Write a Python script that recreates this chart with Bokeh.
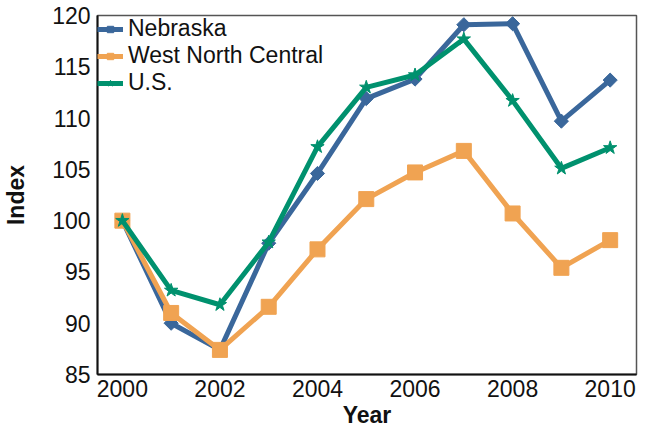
import math
from bokeh.plotting import figure
from bokeh.models import Range1d, FixedTicker
from bokeh.embed import file_html
from bokeh.resources import INLINE

years = [2000, 2001, 2002, 2003, 2004, 2005, 2006, 2007, 2008, 2009, 2010]
nebraska = [100.0, 90.0, 87.4, 97.8, 104.6, 111.9, 113.8, 119.1, 119.2, 109.7, 113.7]
west_north_central = [100.0, 91.0, 87.4, 91.6, 97.2, 102.1, 104.7, 106.8, 100.7, 95.4, 98.1]
us = [100.0, 93.2, 91.8, 97.9, 107.2, 113.0, 114.2, 117.7, 111.7, 105.1, 107.1]
x_ticks = [2000, 2002, 2004, 2006, 2008, 2010]
y_ticks = [85, 90, 95, 100, 105, 110, 115, 120]

FONT = "Liberation Sans"
BLUE = "#3A679B"
ORANGE = "#F0A352"
GREEN = "#00916E"

p = figure(width=642, height=430, output_backend="svg", toolbar_location=None,
           x_range=Range1d(1999.49, 2010.54), y_range=Range1d(85, 120),
           min_border_left=92, min_border_right=6, min_border_top=15, min_border_bottom=10)

p.line(years, nebraska, line_color=BLUE, line_width=5, legend_label="Nebraska")
p.scatter(years, nebraska, marker="square", angle=math.pi / 4, size=10,
          fill_color=BLUE, line_color=BLUE, legend_label="Nebraska")

p.line(years, west_north_central, line_color=ORANGE, line_width=5, legend_label="West North Central")
p.scatter(years, west_north_central, marker="square", size=15,
          fill_color=ORANGE, line_color=ORANGE, legend_label="West North Central")

p.line(years, us, line_color=GREEN, line_width=5, legend_label="U.S.")
p.scatter(years, us, marker="star", size=14,
          fill_color=GREEN, line_color=GREEN, legend_label="U.S.")

p.xgrid.visible = False
p.ygrid.visible = False
p.outline_line_color = "#555555"
p.outline_line_width = 1.5
p.background_fill_color = "white"
p.border_fill_color = "white"

p.xaxis.ticker = FixedTicker(ticks=x_ticks)
p.yaxis.ticker = FixedTicker(ticks=y_ticks)
for ax in (p.xaxis[0], p.yaxis[0]):
    ax.major_tick_line_color = None
    ax.minor_tick_line_color = None
    ax.major_tick_out = 0
    ax.major_tick_in = 0
    ax.minor_tick_out = 0
    ax.axis_line_color = "#111111"
    ax.axis_line_width = 2
    ax.major_label_text_font = FONT
    ax.major_label_text_font_size = "23px"
    ax.major_label_text_color = "#111111"
    ax.axis_label_text_font = FONT
    ax.axis_label_text_font_size = "23px"
    ax.axis_label_text_font_style = "bold"
    ax.axis_label_text_color = "#111111"

p.xaxis.axis_label = "Year"
p.yaxis.axis_label = "Index"
p.xaxis.major_label_standoff = 5
p.xaxis.axis_label_standoff = 2
p.yaxis.major_label_standoff = 7
p.yaxis.axis_label_standoff = 20

lg = p.legend[0]
lg.location = "top_left"
lg.margin = 0
lg.padding = 8
lg.spacing = 0
lg.border_line_color = None
lg.background_fill_alpha = 0
lg.label_text_font = FONT
lg.label_text_font_size = "23px"
lg.label_text_color = "#111111"
lg.label_text_line_height = 0.8
lg.glyph_width = 26
lg.glyph_height = 16
lg.label_standoff = 5
lg.label_height = 16

open("out.html", "w").write(file_html(p, INLINE))
